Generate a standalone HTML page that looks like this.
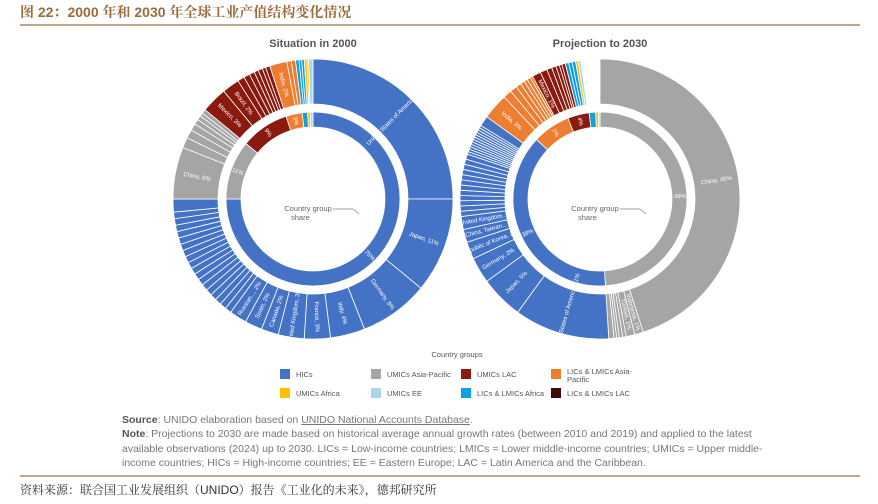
<!DOCTYPE html>
<html><head><meta charset="utf-8">
<style>
html,body{margin:0;padding:0;background:#fff;}
body{width:878px;height:504px;position:relative;overflow:hidden;font-family:"Liberation Sans","Noto Sans CJK SC",sans-serif;}
.t{position:absolute;white-space:nowrap;}
</style></head><body>
<div class="t" style="left:20px;top:2px;font-size:14px;font-weight:bold;color:#9a6b3c;font-family:'Liberation Sans','Noto Serif CJK SC',serif;">图 22：2000 年和 2030 年全球工业产值结构变化情况</div>
<div style="position:absolute;left:20px;top:24px;width:840px;height:2px;background:#bfa58c;"></div>
<svg id="s" width="878" height="504" style="position:absolute;left:0;top:0" xmlns="http://www.w3.org/2000/svg">
<text x="313" y="47" text-anchor="middle" font-size="11" font-weight="bold" fill="#555">Situation in 2000</text>
<text x="600" y="47" text-anchor="middle" font-size="11" font-weight="bold" fill="#555">Projection to 2030</text>
<text x="457" y="357" text-anchor="middle" font-size="7.5" fill="#555">Country groups</text>
<g font-size="7.5" fill="#555">
<rect x="280" y="369" width="10" height="10" fill="#4472c4"/><text x="296" y="377">HICs</text>
<rect x="371" y="369" width="10" height="10" fill="#a5a5a5"/><text x="387" y="377">UMICs Asia-Pacific</text>
<rect x="461" y="369" width="10" height="10" fill="#8b1a0e"/><text x="477" y="377">UMICs LAC</text>
<rect x="551" y="369" width="10" height="10" fill="#ed7d31"/><text x="567" y="374">LICs &amp; LMICs Asia-</text><text x="567" y="382">Pacific</text>
<rect x="280" y="388" width="10" height="10" fill="#ffc000"/><text x="296" y="396">UMICs Africa</text>
<rect x="371" y="388" width="10" height="10" fill="#a9d6ea"/><text x="387" y="396">UMICs EE</text>
<rect x="461" y="388" width="10" height="10" fill="#0ea0e0"/><text x="477" y="396">LICs &amp; LMICs Africa</text>
<rect x="551" y="388" width="10" height="10" fill="#3d0a08"/><text x="567" y="396">LICs &amp; LMICs LAC</text>
</g>
</svg>
<div class="t" style="left:122px;top:413px;font-size:10.5px;color:#777;line-height:14.3px;">
<b style="color:#555">Source</b>: UNIDO elaboration based on <u>UNIDO National Accounts Database</u>.<br>
<b style="color:#555">Note</b>: Projections to 2030 are made based on historical average annual growth rates (between 2010 and 2019) and applied to the latest<br>
available observations (2024) up to 2030. LICs = Low-income countries; LMICs = Lower middle-income countries; UMICs = Upper middle-<br>
income countries; HICs = High-income countries; EE = Eastern Europe; LAC = Latin America and the Caribbean.</div>
<div style="position:absolute;left:20px;top:475px;width:840px;height:2px;background:#bfa58c;"></div>
<div class="t" style="left:20px;top:481px;font-size:12px;color:#333;font-family:'Liberation Sans','Noto Serif CJK SC',serif;">资料来源：联合国工业发展组织（UNIDO）报告《工业化的未来》，德邦研究所</div>
<script>
var C={B:"#4472c4",G:"#a5a5a5",R:"#8b1a0e",O:"#ed7d31",Y:"#ffc000",L:"#a9d6ea",A:"#0ea0e0",D:"#3d0a08"};
var s=document.getElementById('s'),NS="http://www.w3.org/2000/svg";
function pt(cx,cy,r,a){var t=(a-90)*Math.PI/180;return [cx+r*Math.cos(t),cy+r*Math.sin(t)];}
function arc(cx,cy,r0,r1,a0,a1,col){var p=document.createElementNS(NS,'path');var l=(a1-a0)>180?1:0;
var A=pt(cx,cy,r1,a0),B=pt(cx,cy,r1,a1),c=pt(cx,cy,r0,a1),d=pt(cx,cy,r0,a0);
p.setAttribute('d','M'+A+'A'+r1+','+r1+' 0 '+l+' 1 '+B+'L'+c+'A'+r0+','+r0+' 0 '+l+' 0 '+d+'Z');
p.setAttribute('fill',col);p.setAttribute('stroke','#fff');p.setAttribute('stroke-width','0.8');s.appendChild(p);}
function lab(cx,cy,r,a,txt){var P=pt(cx,cy,r,a);var rot=a<=180?a-90:a+90;var t=document.createElementNS(NS,'text');
t.setAttribute('x',P[0]);t.setAttribute('y',P[1]);t.setAttribute('fill','#fff');t.setAttribute('font-size','6');t.setAttribute('text-anchor','middle');t.setAttribute('dominant-baseline','middle');
t.setAttribute('transform','rotate('+rot+' '+P[0]+' '+P[1]+')');t.textContent=txt;s.appendChild(t);}
function ring(cx,cy,r0,r1,list,lr){var a=0;list.forEach(function(e){var a1=a+e[1]*3.6;arc(cx,cy,r0,r1,a,a1,C[e[0]]);if(e[2])lab(cx,cy,lr,(a+a1)/2,e[2]);a=a1;});}
function rep(c,n,v){var o=[];for(var i=0;i<n;i++)o.push([c,v]);return o;}
var cx=313,cy=199;
ring(cx,cy,72,87,[["B",75,"75%"],["G",11,"11%"],["R",9,"9%"],["O",3,"3%"],["A",1],["Y",0.5],["L",0.5]],80);
var L=[["B",25,"United States of America, 25%"],["B",11,"Japan, 11%"],["B",8,"Germany, 8%"],["B",4,"Italy, 4%"],["B",3,"France, 3%"],["B",3,"United Kingdom, 3%"],["B",2,"Canada, 2%"],["B",2,"Spain, 2%"],["B",2,"Russian..., 2%"]]
.concat(rep("B",18,0.75)).concat([["B",1.5]])
.concat([["G",6,"China, 6%"],["G",1.2],["G",1],["G",0.8],["G",0.6],["G",0.5],["G",0.4],["G",0.5]])
.concat([["R",3,"Mexico, 3%"],["R",2,"Brazil, 2%"],["R",0.8],["R",0.7],["R",0.6],["R",0.5],["R",0.5],["R",0.4],["R",0.5]])
.concat([["O",2,"India, 2%"],["O",0.5],["O",0.5],["A",0.4],["A",0.3],["A",0.3],["Y",0.3],["Y",0.2],["L",0.5]]);
ring(cx,cy,95,140,L,118);
var rx=600,ry=199;
ring(rx,ry,72,87,[["G",49,"49%"],["B",38,"38%"],["O",7,"7%"],["R",4,"4%"],["A",1.2],["Y",0.5],["L",0.3]],80);
var R=[["G",45,"China, 45%"],["G",1,"Indonesia, 1%"],["G",1,"Türkiye, 1%"],["G",0.4],["G",0.4],["G",0.3],["G",0.3],["G",0.6],
["B",11,"United States of America, 11%"],["B",5,"Japan, 5%"],["B",3,"Germany, 3%"],["B",2,"Republic of Korea, 2%"],["B",1.5,"China, Taiwan..."],["B",1.5,"United Kingdom..."]]
.concat(rep("B",12,0.6)).concat(rep("B",12,0.3)).concat([["B",1.2]])
.concat([["O",3,"India, 3%"],["O",1],["O",0.8],["O",0.6],["O",0.5],["O",0.4],["O",0.4],["O",0.3]])
.concat([["R",1,"Mexico, 1%"],["R",0.8],["R",0.6],["R",0.5],["R",0.4],["R",0.3],["R",0.4]])
.concat([["A",0.4],["A",0.4],["A",0.4],["Y",0.3],["L",0.3]]);
ring(rx,ry,95,140,R,118);
[cx,rx].forEach(function(x0){var t=document.createElementNS(NS,'text');t.setAttribute('x',x0-5);t.setAttribute('y',211);t.setAttribute('font-size','7.5');t.setAttribute('fill','#666');t.setAttribute('text-anchor','middle');t.textContent="Country group";s.appendChild(t);
var u=document.createElementNS(NS,'text');u.setAttribute('x',x0-22);u.setAttribute('y',220);u.setAttribute('font-size','7.5');u.setAttribute('fill','#666');u.textContent="share";s.appendChild(u);
var p=document.createElementNS(NS,'path');p.setAttribute('d','M'+(x0+20)+' 209 H'+(x0+40)+' L'+(x0+46)+' 214');p.setAttribute('stroke','#888');p.setAttribute('fill','none');p.setAttribute('stroke-width','0.7');s.appendChild(p);});
</script>
</body></html>
